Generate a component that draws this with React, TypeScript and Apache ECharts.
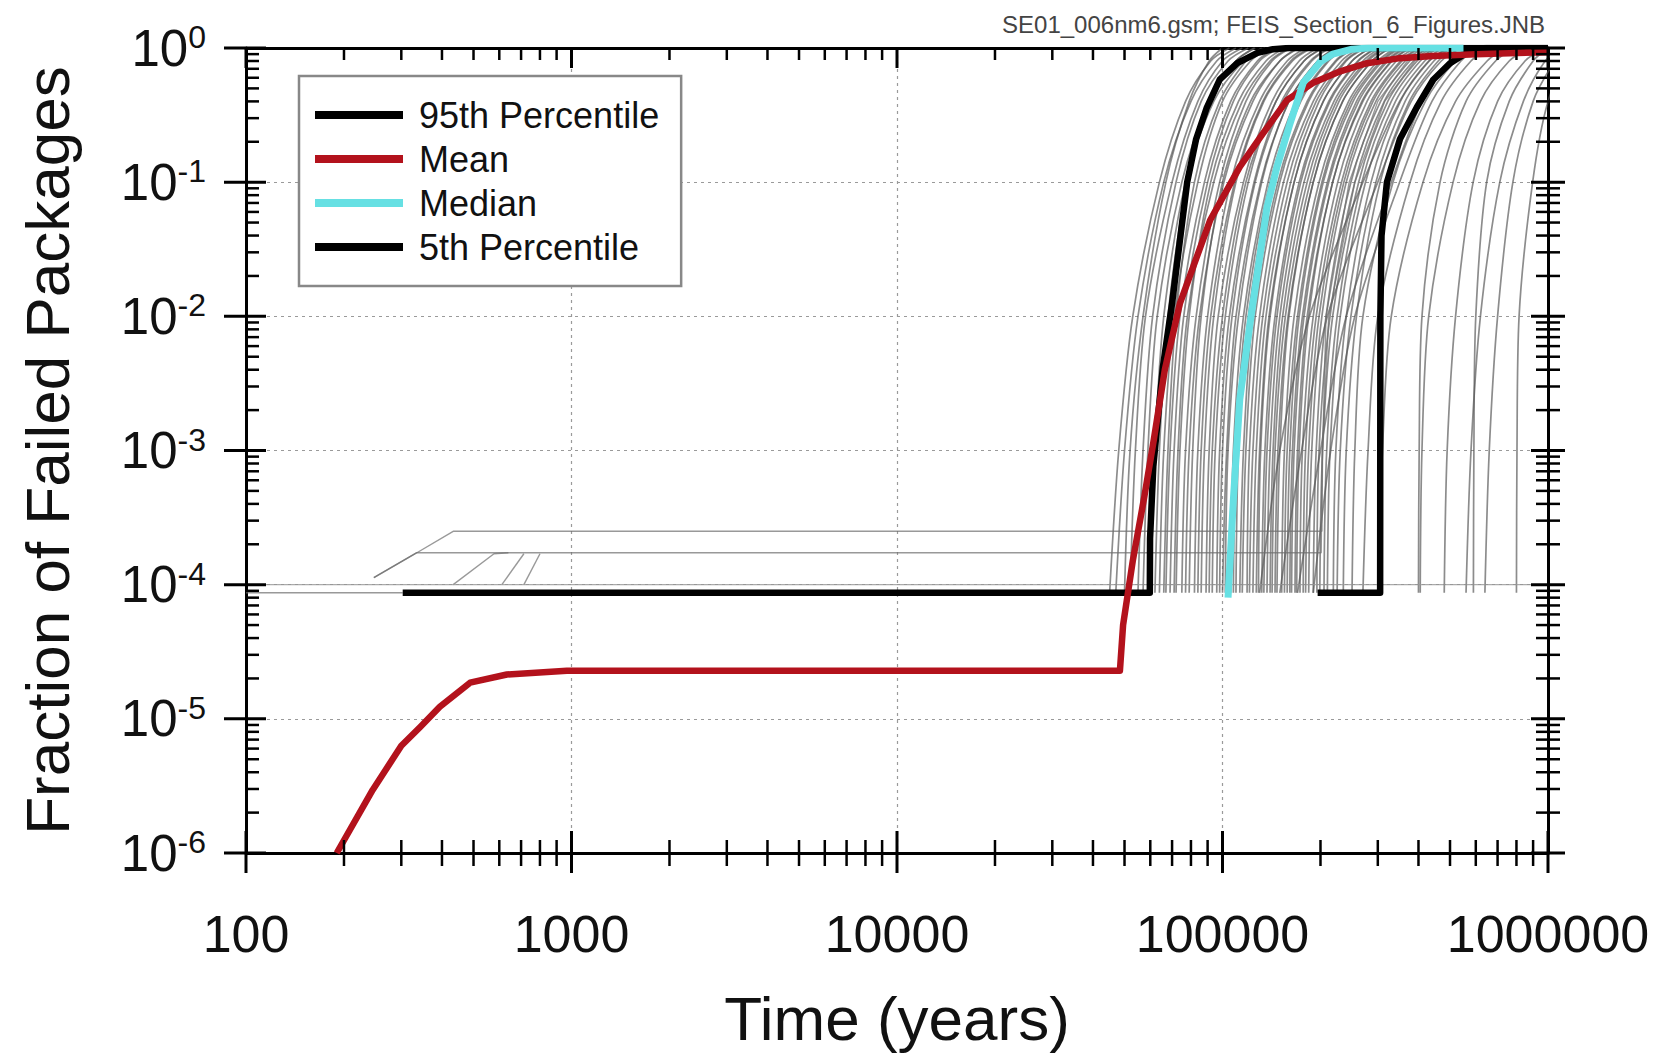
import React, { useEffect, useRef } from "react";
import * as echarts from "echarts";

const FONT = "'Liberation Sans', Arial, Helvetica, sans-serif";

const X_MIN = 100;
const X_MAX = 1000000;
const Y_MIN = 1e-6;
const Y_MAX = 1;
const X_DECADES = [100, 1000, 10000, 100000, 1000000];
const Y_DECADES = [1e-6, 1e-5, 1e-4, 1e-3, 1e-2, 1e-1, 1];
const MINOR_STEPS = [2, 3, 4, 5, 6, 7, 8, 9];

const TITLE_NOTE = "SE01_006nm6.gsm; FEIS_Section_6_Figures.JNB";
const X_NAME = "Time (years)";
const Y_NAME = "Fraction of Failed Packages";
const LEGEND_NAMES = ["95th Percentile", "Mean", "Median", "5th Percentile"];

// [time (years), fraction]
const P95 = [
  [303, 8.7e-5], [59800, 8.7e-5], [59900, 2.2e-4], [61300, 7.6e-4], [63400, 1.8e-3],
  [65600, 4.2e-3], [70000, 0.0125], [74000, 0.037], [77900, 0.1], [83000, 0.21],
  [89500, 0.36], [98000, 0.58], [111000, 0.77], [128000, 0.92], [143000, 0.98],
  [160000, 1], [1000000, 1],
];
const MEAN = [
  [190, 1e-6], [245, 2.95e-6], [300, 6.3e-6], [343, 8.7e-6], [394, 1.23e-5],
  [488, 1.86e-5], [633, 2.14e-5], [968, 2.28e-5], [48400, 2.28e-5], [49500, 5e-5],
  [53000, 1.5e-4], [57500, 4.5e-4], [61500, 1.2e-3], [66500, 4e-3], [74000, 0.0125],
  [91600, 0.052], [113000, 0.13], [133000, 0.23], [158000, 0.41], [190000, 0.55],
  [230000, 0.67], [278000, 0.77], [351000, 0.84], [443000, 0.87], [600000, 0.9],
  [1000000, 0.93],
];
const MEDIAN = [
  [104000, 8e-5], [108000, 4.3e-4], [113000, 2.4e-3], [122000, 9.5e-3], [137000, 0.065],
  [147000, 0.13], [161000, 0.27], [177000, 0.55], [200000, 0.79], [218000, 0.9],
  [250000, 0.98], [280000, 1], [550000, 1],
];
const P5 = [
  [196000, 8.7e-5], [305000, 8.7e-5], [305500, 0.01], [308000, 0.04], [320000, 0.1],
  [351000, 0.21], [395000, 0.36], [444000, 0.58], [500000, 0.77], [563000, 0.92],
  [617000, 0.99], [650000, 1], [1000000, 1],
];

// Individual realizations: time (thousand years) at which each reaches these fractions
const GRAY_LEVELS = [8.7e-5, 1e-3, 1e-2, 0.1, 0.4, 0.8, 1];
const GRAY_RUNS_KYR = [
  [45, 48, 53, 64, 77, 92, 105],
  [47, 50, 55, 66, 80, 96, 110],
  [50, 52, 57, 67, 79, 91, 100],
  [52, 54, 58, 70, 84, 100, 115],
  [55, 57, 61, 72, 86, 104, 120],
  [57, 59, 63, 75, 91, 110, 126],
  [60, 62, 66, 77, 94, 116, 135],
  [62, 64, 68, 78, 92, 110, 125],
  [64, 66, 71, 84, 100, 122, 140],
  [66, 68, 72, 82, 98, 118, 132],
  [67, 69, 74, 88, 106, 128, 146],
  [69, 71, 76, 90, 108, 130, 150],
  [71, 73, 78, 94, 115, 140, 160],
  [72, 74, 79, 92, 112, 136, 155],
  [75, 77, 83, 98, 118, 142, 162],
  [77, 79, 85, 101, 124, 150, 170],
  [79, 81, 86, 100, 122, 150, 172],
  [82, 84, 90, 106, 130, 158, 180],
  [84, 86, 92, 109, 133, 162, 185],
  [86, 88, 94, 110, 134, 164, 188],
  [89, 91, 97, 116, 142, 172, 196],
  [91, 93, 100, 118, 146, 178, 202],
  [93, 95, 102, 120, 146, 178, 204],
  [96, 98, 105, 125, 152, 186, 212],
  [98, 100, 107, 126, 154, 188, 214],
  [100, 103, 110, 131, 160, 196, 222],
  [102, 104, 112, 132, 160, 196, 224],
  [106, 108, 116, 138, 168, 204, 232],
  [108, 110, 118, 140, 172, 210, 238],
  [110, 112, 120, 142, 174, 212, 240],
  [113, 116, 124, 148, 182, 222, 252],
  [115, 118, 126, 150, 184, 224, 255],
  [119, 121, 130, 154, 190, 232, 264],
  [121, 124, 133, 158, 194, 238, 270],
  [124, 127, 136, 162, 198, 240, 274],
  [127, 130, 139, 166, 204, 250, 284],
  [129, 131, 140, 166, 204, 250, 285],
  [132, 135, 145, 172, 212, 260, 296],
  [134, 137, 147, 174, 214, 262, 298],
  [137, 140, 150, 178, 220, 270, 305],
  [140, 143, 153, 182, 224, 276, 312],
  [142, 145, 156, 186, 228, 280, 318],
  [145, 148, 159, 190, 234, 288, 326],
  [147, 150, 160, 190, 234, 288, 328],
  [152, 155, 166, 198, 244, 300, 340],
  [155, 158, 170, 202, 248, 306, 346],
  [158, 161, 172, 204, 252, 310, 352],
  [161, 164, 176, 210, 258, 318, 360],
  [163, 166, 178, 212, 262, 322, 366],
  [167, 170, 182, 218, 268, 330, 374],
  [169, 172, 184, 218, 270, 332, 378],
  [173, 176, 190, 226, 278, 342, 390],
  [177, 180, 194, 232, 286, 352, 400],
  [180, 184, 198, 236, 290, 356, 405],
  [184, 188, 202, 240, 296, 364, 415],
  [190, 194, 208, 248, 306, 376, 428],
  [195, 198, 214, 255, 314, 386, 440],
  [199, 203, 218, 262, 322, 396, 450],
  [205, 209, 225, 268, 330, 405, 460],
  [210, 214, 230, 275, 340, 418, 475],
  [219, 223, 240, 286, 352, 432, 492],
  [225, 230, 248, 296, 364, 446, 505],
  [235, 240, 258, 305, 375, 460, 520],
  [130, 150, 185, 270, 350, 430, 500],
  [150, 175, 210, 300, 380, 470, 540],
  [170, 200, 240, 330, 410, 500, 570],
  [190, 215, 255, 350, 440, 540, 610],
  [250, 255, 270, 334, 420, 520, 600],
  [270, 280, 300, 377, 470, 580, 660],
  [300, 310, 330, 413, 520, 650, 740],
  [400, 402, 410, 466, 560, 690, 790],
  [405, 410, 430, 511, 620, 760, 880],
  [480, 490, 520, 589, 700, 850, 980],
  [590, 592, 600, 648, 760, 900, 1000],
  [560, 580, 620, 711, 840, 980, 1100],
  [640, 660, 700, 780, 900, 1050, 1150],
  [800, 803, 815, 897, 1000, 1150, 1300],
];

// Early realizations and baselines [time (years), fraction]
const LOW_RUNS = [
  [[247, 1.13e-4], [335, 1.73e-4], [433, 2.5e-4], [202000, 2.5e-4], [203000, 1e-3], [208000, 1e-2], [245000, 0.1], [300000, 0.4], [370000, 0.8], [430000, 1]],
  [[247, 1.13e-4], [335, 1.73e-4], [201000, 1.73e-4], [202500, 1e-3], [212000, 1e-2], [255000, 0.1], [315000, 0.4], [390000, 0.8], [450000, 1]],
  [[433, 1e-4], [578, 1.7e-4], [640, 1.73e-4]],
  [[611, 1e-4], [714, 1.7e-4]],
  [[714, 1e-4], [800, 1.7e-4]],
  [[100, 8.7e-5], [303, 8.7e-5]],
  [[100, 1e-4], [1000000, 1e-4]],
];

const GRAY = "rgba(85,85,85,0.68)";

function buildOption() {
  const graySeries: any[] = [];
  GRAY_RUNS_KYR.forEach((run, i) => {
    graySeries.push({
      type: "line",
      name: "run" + i,
      data: run.map((t, j) => [t * 1000, GRAY_LEVELS[j]]),
      symbol: "none",
      silent: true,
      smooth: 0.3,
      lineStyle: { color: GRAY, width: 1.7 },
      z: 1,
    });
  });
  LOW_RUNS.forEach((run, i) => {
    graySeries.push({
      type: "line",
      name: "low" + i,
      data: run,
      symbol: "none",
      silent: true,
      lineStyle: { color: i === 6 ? "rgba(150,150,150,0.8)" : "rgba(110,110,110,0.7)", width: 1.4 },
      z: 1,
    });
  });

  const tickItems: number[][] = [];
  X_DECADES.forEach((d) => {
    tickItems.push([d, Y_MIN, 0]);
    tickItems.push([d, Y_MAX, 1]);
  });
  for (let i = 0; i < X_DECADES.length - 1; i++) {
    MINOR_STEPS.forEach((m) => {
      tickItems.push([X_DECADES[i] * m, Y_MIN, 2]);
      tickItems.push([X_DECADES[i] * m, Y_MAX, 3]);
    });
  }
  Y_DECADES.forEach((d) => {
    tickItems.push([X_MIN, d, 4]);
    tickItems.push([X_MAX, d, 5]);
  });
  for (let i = 0; i < Y_DECADES.length - 1; i++) {
    MINOR_STEPS.forEach((m) => {
      tickItems.push([X_MIN, Y_DECADES[i] * m, 6]);
      tickItems.push([X_MAX, Y_DECADES[i] * m, 7]);
    });
  }

  const mainLine = (name: string, data: number[][], color: string, width: number, z: number) => ({
    type: "line",
    name,
    data,
    color,
    symbol: "none",
    silent: true,
    itemStyle: { color },
    lineStyle: { color, width, cap: "butt", join: "round" },
    z,
  });

  const gridLine = { show: true, lineStyle: { color: "#9a9a9a", width: 1.2, type: [3, 4] } };

  return {
    animation: false,
    backgroundColor: "#ffffff",
    title: {
      text: TITLE_NOTE,
      right: 115,
      top: 7,
      textStyle: { fontSize: 24, fontWeight: "normal", color: "#444", fontFamily: FONT },
    },
    legend: {
      data: LEGEND_NAMES,
      orient: "vertical",
      left: 299,
      top: 76,
      padding: [21, 22, 21, 16],
      itemGap: 8,
      itemWidth: 88,
      itemHeight: 8,
      icon: "rect",
      backgroundColor: "#ffffff",
      borderColor: "#888",
      borderWidth: 2.5,
      selectedMode: false,
      formatter: (n: string) => "{a|" + n + "}",
      textStyle: {
        fontSize: 36,
        color: "#111",
        fontFamily: FONT,
        rich: { a: { fontSize: 36, color: "#111", fontFamily: FONT, padding: [0, 0, 0, 11] } },
      },
      z: 20,
    },
    grid: { left: 246, top: 48, width: 1302, height: 805, containLabel: false },
    xAxis: [
      {
        type: "log",
        logBase: 10,
        min: X_MIN,
        max: X_MAX,
        splitNumber: 4,
        position: "bottom",
        name: X_NAME,
        nameLocation: "middle",
        nameGap: 134,
        nameTextStyle: { fontSize: 62, color: "#111", fontFamily: FONT },
        axisLine: { show: true, lineStyle: { color: "#000", width: 3 } },
        axisTick: { show: false },
        axisLabel: {
          show: true,
          margin: 55,
          fontSize: 52,
          color: "#111",
          fontFamily: FONT,
          formatter: (v: number) => String(Math.round(v)),
        },
        splitLine: gridLine,
      },
      {
        type: "log",
        logBase: 10,
        min: X_MIN,
        max: X_MAX,
        splitNumber: 4,
        position: "top",
        axisLine: { show: true, lineStyle: { color: "#000", width: 3 } },
        axisTick: { show: false },
        axisLabel: { show: false },
        splitLine: { show: false },
      },
    ],
    yAxis: [
      {
        type: "log",
        logBase: 10,
        min: Y_MIN,
        max: Y_MAX,
        splitNumber: 6,
        position: "left",
        name: Y_NAME,
        nameLocation: "middle",
        nameRotate: 90,
        nameGap: 168,
        nameTextStyle: { fontSize: 62, color: "#111", fontFamily: FONT },
        axisLine: { show: true, lineStyle: { color: "#000", width: 3 } },
        axisTick: { show: false },
        axisLabel: {
          show: true,
          margin: 40,
          formatter: (v: number) => "{b|10}{s|" + Math.round(Math.log10(v)) + "}",
          rich: {
            b: { fontSize: 51, lineHeight: 54, color: "#111", fontFamily: FONT },
            s: { fontSize: 32, lineHeight: 40, color: "#111", fontFamily: FONT, verticalAlign: "top" },
          },
        },
        splitLine: gridLine,
      },
      {
        type: "log",
        logBase: 10,
        min: Y_MIN,
        max: Y_MAX,
        splitNumber: 6,
        position: "right",
        axisLine: { show: true, lineStyle: { color: "#000", width: 3 } },
        axisTick: { show: false },
        axisLabel: { show: false },
        splitLine: { show: false },
      },
    ],
    series: [
      ...graySeries,
      mainLine("95th Percentile", P95, "#000000", 6.5, 5),
      mainLine("5th Percentile", P5, "#000000", 6.5, 5),
      mainLine("Mean", MEAN, "#b3121c", 6.5, 6),
      mainLine("Median", MEDIAN, "#66e0e3", 7, 7),
      {
        type: "custom",
        name: "ticks",
        data: tickItems,
        dimensions: ["x", "y", "k"],
        encode: { x: 0, y: 1 },
        clip: false,
        silent: true,
        z: 10,
        renderItem: (_params: any, api: any) => {
          const p = api.coord([api.value(0), api.value(1)]);
          const k = api.value(2);
          let x1 = p[0], x2 = p[0], y1 = p[1], y2 = p[1];
          let w = 2.5;
          if (k === 0) { y1 = p[1] - 22; y2 = p[1] + 20; w = 3; }
          else if (k === 1) { y1 = p[1]; y2 = p[1] + 20; w = 3; }
          else if (k === 2) { y1 = p[1] - 13; y2 = p[1] + 13; }
          else if (k === 3) { y1 = p[1]; y2 = p[1] + 12; }
          else if (k === 4) { x1 = p[0] - 22; x2 = p[0] + 20; w = 3; }
          else if (k === 5) { x1 = p[0] - 17; x2 = p[0] + 17; w = 3; }
          else if (k === 6) { x1 = p[0]; x2 = p[0] + 13; }
          else { x1 = p[0] - 12; x2 = p[0] + 12; }
          return {
            type: "line",
            shape: { x1, y1, x2, y2 },
            style: { stroke: "#000", lineWidth: w },
          };
        },
      },
    ],
  };
}

export default function App() {
  const ref = useRef<HTMLDivElement>(null);
  useEffect(() => {
    document.body.style.margin = "0";
    const chart = echarts.init(ref.current as HTMLDivElement, null, { renderer: "svg" });
    chart.setOption(buildOption() as any);
    return () => chart.dispose();
  }, []);
  return <div ref={ref} style={{ width: 1665, height: 1056, background: "#fff" }} />;
}
